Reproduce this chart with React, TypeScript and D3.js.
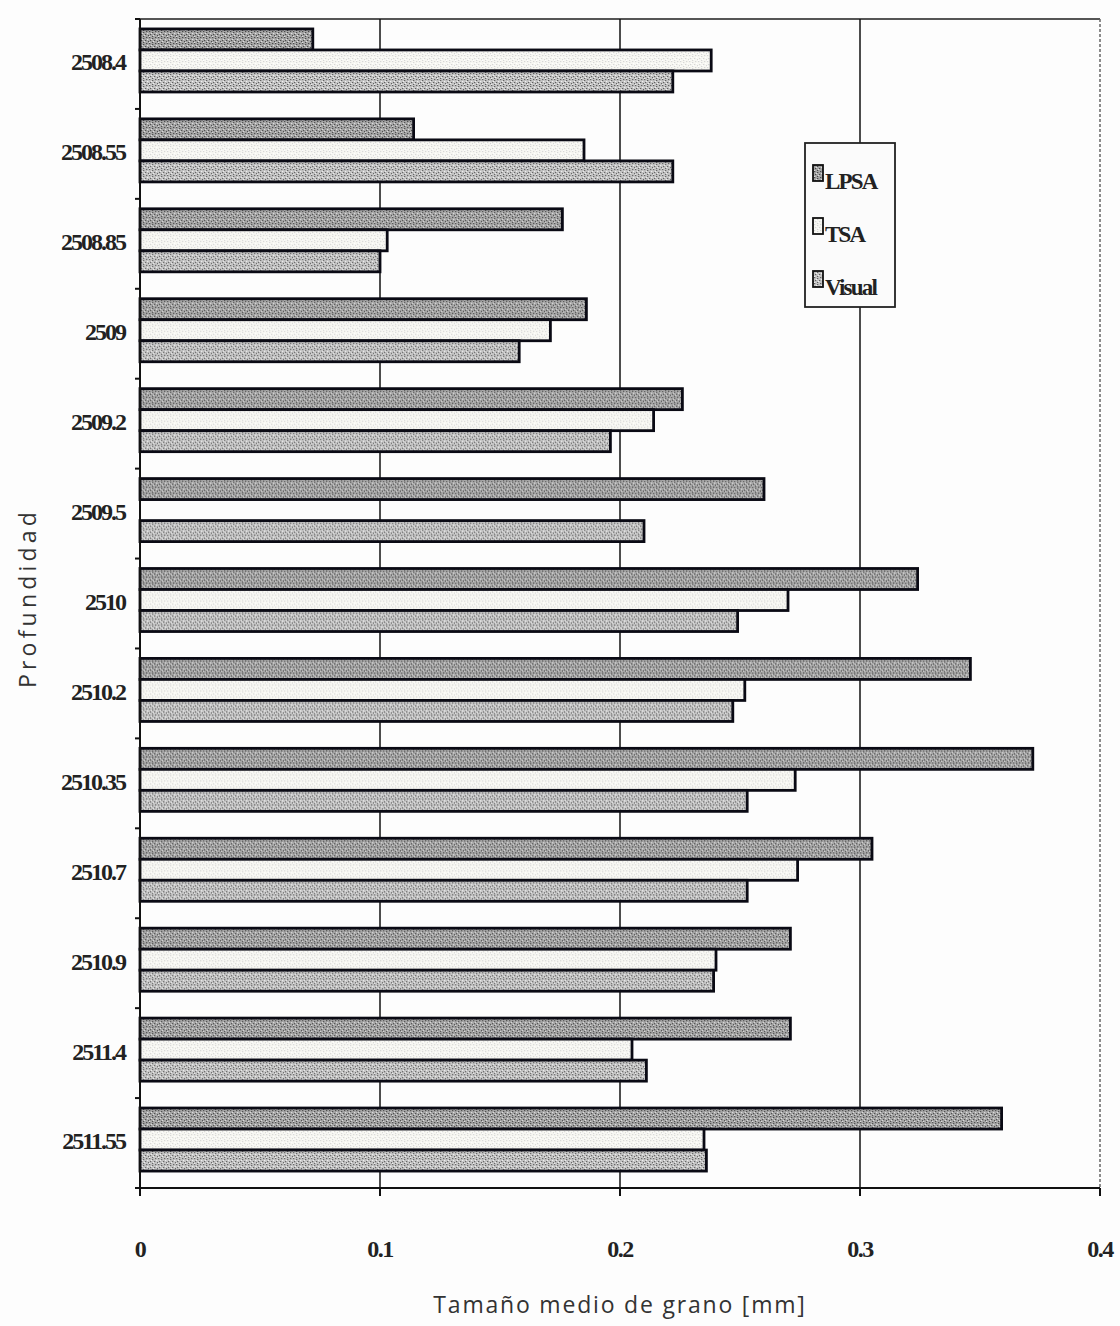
import { useRef, useEffect } from 'react'
import * as d3 from 'd3'

// depth labels (Profundidad)
const depths = ["2508.4", "2508.55", "2508.85", "2509", "2509.2", "2509.5", "2510",
  "2510.2", "2510.35", "2510.7", "2510.9", "2511.4", "2511.55"]

const seriesNames = ["LPSA", "TSA", "Visual"]

// mean grain size [mm]
const lpsa = [0.072, 0.114, 0.176, 0.186, 0.226, 0.260, 0.324, 0.346, 0.372, 0.305, 0.271, 0.271, 0.359]
const tsa = [0.238, 0.185, 0.103, 0.171, 0.214, null, 0.270, 0.252, 0.273, 0.274, 0.240, 0.205, 0.235]
const visual = [0.222, 0.222, 0.100, 0.158, 0.196, 0.210, 0.249, 0.247, 0.253, 0.253, 0.239, 0.211, 0.236]

const xTicks = [0, 0.1, 0.2, 0.3, 0.4]

export default function App() {
  const svgRef = useRef<SVGSVGElement>(null)
  const width = 1120
  const height = 1326
  const margin = { top: 19, right: 20, bottom: 138, left: 140 }

  useEffect(() => {
    if (!svgRef.current) return
    const svg = d3.select(svgRef.current)
    svg.selectAll("*").remove()

    const innerWidth = width - margin.left - margin.right
    const innerHeight = height - margin.top - margin.bottom

    // stipple patterns
    const defs = svg.append("defs")
    const makePattern = (id: string, base: string, dark: string, light: string) => {
      const p = defs.append("pattern")
        .attr("id", id)
        .attr("width", 9)
        .attr("height", 6)
        .attr("patternUnits", "userSpaceOnUse")
      p.append("rect").attr("width", 9).attr("height", 6).attr("fill", base)
      const darkDots = [[0, 0], [3, 1], [6, 0], [1, 3], [5, 3], [8, 4], [3, 5]]
      const lightDots = [[2, 2], [7, 2], [4, 4], [0, 5]]
      darkDots.forEach(([dx, dy]) => p.append("rect").attr("x", dx).attr("y", dy)
        .attr("width", 1.3).attr("height", 1.1).attr("fill", dark))
      lightDots.forEach(([dx, dy]) => p.append("rect").attr("x", dx).attr("y", dy)
        .attr("width", 1.3).attr("height", 1.1).attr("fill", light))
    }
    makePattern("pat-lpsa", "#a6a6a6", "#4a4a4a", "#e0e0e0")
    makePattern("pat-tsa", "#f7f7f2", "#d6d6d6", "#ffffff")
    makePattern("pat-visual", "#c4c4c4", "#606060", "#f0f0f0")
    const fills: Record<string, string> = {
      LPSA: "url(#pat-lpsa)", TSA: "url(#pat-tsa)", Visual: "url(#pat-visual)"
    }

    const xScale = d3.scaleLinear().domain([0, 0.4]).range([0, innerWidth])
    const y0 = d3.scaleBand().domain(depths).range([0, innerHeight]).padding(0)
    const y1 = d3.scaleBand().domain(seriesNames).range([0, y0.bandwidth()])
      .paddingInner(0).paddingOuter(0.64).align(0.37)

    const g = svg.append("g").attr("transform", `translate(${margin.left},${margin.top})`)

    // top border and dashed right border
    g.append("line").attr("x1", 0).attr("x2", innerWidth).attr("y1", 0).attr("y2", 0)
      .attr("stroke", "#555").attr("stroke-width", 2)
    g.append("line").attr("x1", innerWidth).attr("x2", innerWidth).attr("y1", 0).attr("y2", innerHeight)
      .attr("stroke", "#666").attr("stroke-width", 1.5).attr("stroke-dasharray", "3,2")

    // vertical gridlines
    g.selectAll(".grid")
      .data(xTicks.filter(t => t > 0 && t < 0.4))
      .enter()
      .append("line")
      .attr("x1", d => xScale(d)).attr("x2", d => xScale(d))
      .attr("y1", 0).attr("y2", innerHeight)
      .attr("stroke", "#111").attr("stroke-width", 1.5)

    // bars
    const rows = depths.map((d, i) => ({
      depth: d,
      values: [
        { key: "LPSA", value: lpsa[i] },
        { key: "TSA", value: tsa[i] },
        { key: "Visual", value: visual[i] }
      ]
    }))

    const groups = g.selectAll(".row")
      .data(rows)
      .enter()
      .append("g")
      .attr("transform", d => `translate(0,${y0(d.depth)})`)

    groups.selectAll("rect")
      .data(d => d.values.filter(v => v.value != null))
      .enter()
      .append("rect")
      .attr("x", xScale(0))
      .attr("y", d => y1(d.key) || 0)
      .attr("width", d => xScale(d.value as number) - xScale(0))
      .attr("height", y1.bandwidth())
      .attr("fill", d => fills[d.key])
      .attr("stroke", "#0a0a14")
      .attr("stroke-width", 2.8)

    // left axis
    const yBoundaries = d3.range(depths.length + 1).map(i => i * y0.step())
    g.append("line").attr("x1", 0).attr("x2", 0).attr("y1", 0).attr("y2", innerHeight + 8)
      .attr("stroke", "#111").attr("stroke-width", 2)
    g.selectAll(".ytick")
      .data(yBoundaries)
      .enter()
      .append("line")
      .attr("x1", -5).attr("x2", 0)
      .attr("y1", d => d).attr("y2", d => d)
      .attr("stroke", "#111").attr("stroke-width", 2)
    g.selectAll(".ylabel")
      .data(depths)
      .enter()
      .append("text")
      .attr("x", -15)
      .attr("y", d => (y0(d) || 0) + y0.bandwidth() / 2 - 2)
      .attr("dy", "0.35em")
      .attr("text-anchor", "end")
      .attr("font-family", "'Liberation Serif', 'Times New Roman', serif")
      .attr("font-weight", "bold")
      .attr("font-size", 24)
      .attr("letter-spacing", -2)
      .attr("fill", "#222")
      .text(d => d)

    // bottom axis
    g.append("line").attr("x1", 0).attr("x2", innerWidth).attr("y1", innerHeight).attr("y2", innerHeight)
      .attr("stroke", "#111").attr("stroke-width", 2)
    g.selectAll(".xtick")
      .data(xTicks)
      .enter()
      .append("line")
      .attr("x1", d => xScale(d)).attr("x2", d => xScale(d))
      .attr("y1", innerHeight).attr("y2", innerHeight + 8)
      .attr("stroke", "#111").attr("stroke-width", 2)
    g.selectAll(".xlabel")
      .data(xTicks)
      .enter()
      .append("text")
      .attr("x", d => xScale(d))
      .attr("y", innerHeight + 69)
      .attr("text-anchor", "middle")
      .attr("font-family", "'Liberation Serif', 'Times New Roman', serif")
      .attr("font-weight", "bold")
      .attr("font-size", 24)
      .attr("letter-spacing", -1.5)
      .attr("fill", "#222")
      .text(d => d === 0 ? "0" : String(d))

    // axis titles
    svg.append("text")
      .attr("transform", `translate(36,${598}) rotate(-90)`)
      .attr("text-anchor", "middle")
      .attr("font-family", "'Open Sans', 'Noto Sans', sans-serif")
      .attr("font-size", 23)
      .attr("letter-spacing", 4.2)
      .attr("fill", "#333")
      .text("Profundidad")

    svg.append("text")
      .attr("x", 620)
      .attr("y", 1313)
      .attr("text-anchor", "middle")
      .attr("font-family", "'Open Sans', 'Noto Sans', sans-serif")
      .attr("font-size", 23)
      .attr("letter-spacing", 1.8)
      .attr("fill", "#333")
      .text("Tamaño medio de grano [mm]")

    // legend
    const legend = svg.append("g").attr("transform", "translate(805,143)")
    legend.append("rect")
      .attr("width", 90).attr("height", 164)
      .attr("fill", "#fbfbfb").attr("stroke", "#222").attr("stroke-width", 1.8)
    const legendY = d3.scalePoint().domain(seriesNames).range([46, 152])
    const items = legend.selectAll(".item")
      .data(seriesNames)
      .enter()
      .append("g")
      .attr("transform", d => `translate(0,${legendY(d)})`)
    items.append("rect")
      .attr("x", 8).attr("y", -24).attr("width", 10).attr("height", 16)
      .attr("fill", d => fills[d]).attr("stroke", "#111").attr("stroke-width", 1.8)
    items.append("text")
      .attr("x", 20).attr("y", 0)
      .attr("font-family", "'Liberation Serif', 'Times New Roman', serif")
      .attr("font-weight", "bold")
      .attr("font-size", 23)
      .attr("letter-spacing", -1.8)
      .attr("fill", "#222")
      .text(d => d)
  }, [])

  return (
    <svg
      ref={svgRef}
      width={width}
      height={height}
      style={{ position: 'absolute', left: 0, top: 0, background: '#fdfdfd' }}
    />
  )
}
